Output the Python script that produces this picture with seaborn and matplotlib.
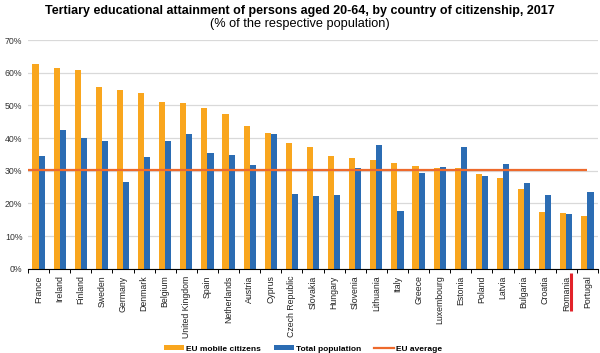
"""
Tertiary educational attainment (20-64) by country of citizenship, 2017.
Grouped bars: EU mobile citizens vs total population, with EU average line.
"""
import pandas as pd
import seaborn as sns
import matplotlib.pyplot as plt
import matplotlib.transforms as mtransforms
from matplotlib.patches import Patch
from matplotlib.lines import Line2D

# data (%)
countries = ['France', 'Ireland', 'Finland', 'Sweden', 'Germany', 'Denmark', 'Belgium',
             'United Kingdom', 'Spain', 'Netherlands', 'Austria', 'Cyprus', 'Czech Republic',
             'Slovakia', 'Hungary', 'Slovenia', 'Lithuania', 'Italy', 'Greece', 'Luxembourg',
             'Estonia', 'Poland', 'Latvia', 'Bulgaria', 'Croatia', 'Romania', 'Portugal']
mobile = [62.7, 61.6, 61.0, 55.8, 54.6, 53.8, 51.2, 50.9, 49.2, 47.5, 43.8, 41.5, 38.5,
          37.2, 34.6, 34.0, 33.3, 32.5, 31.5, 30.9, 30.9, 29.0, 27.8, 24.5, 17.4, 16.9, 16.1]
total = [34.6, 42.5, 39.9, 39.2, 26.7, 34.2, 39.0, 41.3, 35.3, 34.8, 31.9, 41.2, 22.9,
         22.3, 22.6, 30.8, 37.9, 17.8, 29.4, 31.0, 37.4, 28.4, 32.2, 26.3, 22.5, 16.8, 23.6]
eu_average = 30.3
series_names = ['EU mobile citizens', 'Total population']

orange = '#F9A61E'
blue = '#2B6CB3'
line_col = '#EE6A2C'

df = pd.DataFrame({
    'country': countries * 2,
    'value': mobile + total,
    'series': [series_names[0]] * len(countries) + [series_names[1]] * len(countries),
})

plt.rcParams['font.family'] = ['Liberation Sans', 'DejaVu Sans']

fig = plt.figure(figsize=(6, 3.53), dpi=100)
ax = fig.add_axes([0.0467, 0.239, 0.95, 0.647])

sns.barplot(data=df, x='country', y='value', hue='series', order=countries,
            hue_order=series_names, palette=[orange, blue], width=0.58,
            gap=0.0, saturation=1, legend=False, ax=ax)

n = len(countries)
ax.hlines(eu_average, -0.5, n - 1, color=line_col, lw=1.6, zorder=3)

ax.set_xlim(-0.5, n - 0.5)
ax.set_ylim(0, 70)
ax.set_yticks(range(0, 71, 10))
ax.set_yticklabels([f'{v}%' for v in range(0, 71, 10)], fontsize=6.3, color='#333333')
ax.set_xticks(range(n))
ax.set_xticklabels(countries, rotation=90, fontsize=6.3, color='#222222')
ax.set_xticks([i - 0.5 for i in range(n + 1)], minor=True)
ax.tick_params(axis='x', which='major', length=0, pad=5)
ax.tick_params(axis='x', which='minor', length=3, width=0.7, color='black')
ax.tick_params(axis='y', length=0, pad=4)
ax.set_xlabel('')
ax.set_ylabel('')

ax.grid(axis='y', color='#D9D9D9', lw=0.9)
ax.set_axisbelow(True)
for side in ['left', 'right', 'top']:
    ax.spines[side].set_visible(False)
ax.spines['bottom'].set_color('black')
ax.spines['bottom'].set_linewidth(0.8)

# red marker next to Romania label
trans = mtransforms.blended_transform_factory(ax.transData, ax.transAxes)
ax.plot([25.21, 25.21], [-0.019, -0.185], transform=trans, color='#E2232A',
        lw=2.2, clip_on=False, solid_capstyle='butt')

fig.text(0.5, 0.970, 'Tertiary educational attainment of persons aged 20-64, by country of citizenship, 2017',
         ha='center', va='center', fontsize=9.0, fontweight='bold')
fig.text(0.5, 0.932, '(% of the respective population)', ha='center', va='center', fontsize=9.2)

handles = [Patch(facecolor=orange, edgecolor='none'),
           Patch(facecolor=blue, edgecolor='none'),
           Line2D([0], [0], color=line_col, lw=1.6)]
leg = fig.legend(handles, series_names + ['EU average'], loc='lower center',
                 bbox_to_anchor=(0.505, -0.02), ncol=3, frameon=False,
                 prop={'size': 6.0, 'weight': 'bold'}, handlelength=2.4, handleheight=0.5,
                 handletextpad=0.2, columnspacing=1.6)

plt.savefig('out.png', dpi=100)
